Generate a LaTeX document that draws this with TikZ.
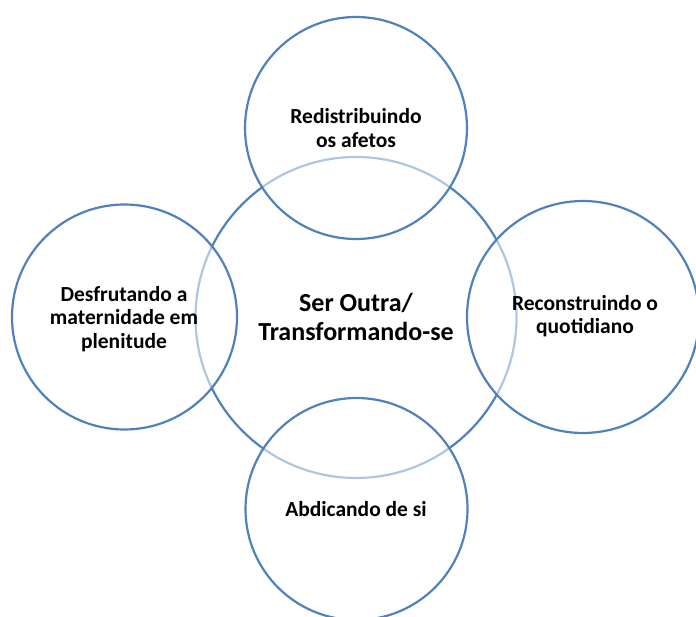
\documentclass[tikz,border=0pt]{standalone}
\usepackage{fontspec}
\setmainfont{Carlito}
\definecolor{ringblue}{RGB}{79,129,189}
\begin{document}
\begin{tikzpicture}[x=1pt,y=-1pt,
  ring/.style={draw=ringblue,line width=2.2pt},
  satellite/.style={ring,fill=white,fill opacity=0.55,text opacity=1},
  smalltext/.style={font=\bfseries\fontsize{21.5}{23.5}\selectfont,align=center,text=black},
  bigtext/.style={font=\bfseries\fontsize{26}{28.5}\selectfont,align=center,text=black}]
\useasboundingbox (0,0) rectangle (696,617);
\begin{scope}
\clip (0,0) rectangle (696,617);
% central circle
\draw[ring] (356,317.5) circle (160.5);
\node[bigtext] (core) at (356,317) {Ser Outra/\\Transformando-se};
% surrounding circles, half transparent so the central ring shows through faintly
\draw[satellite] (356,128) circle (111);
\draw[satellite] (124.5,317) circle (112.5);
\draw[satellite] (583,317) circle (116);
\draw[satellite] (356.5,509) circle (111);
\node[smalltext] (top) at (356,128) {Redistribuindo\\os afetos};
\node[smalltext] (left) at (124,319) {Desfrutando a\\maternidade em\\plenitude};
\node[smalltext] (right) at (585,316) {Reconstruindo o\\quotidiano};
\node[smalltext] (bottom) at (356,509) {Abdicando de si};
\end{scope}
\end{tikzpicture}
\end{document}
